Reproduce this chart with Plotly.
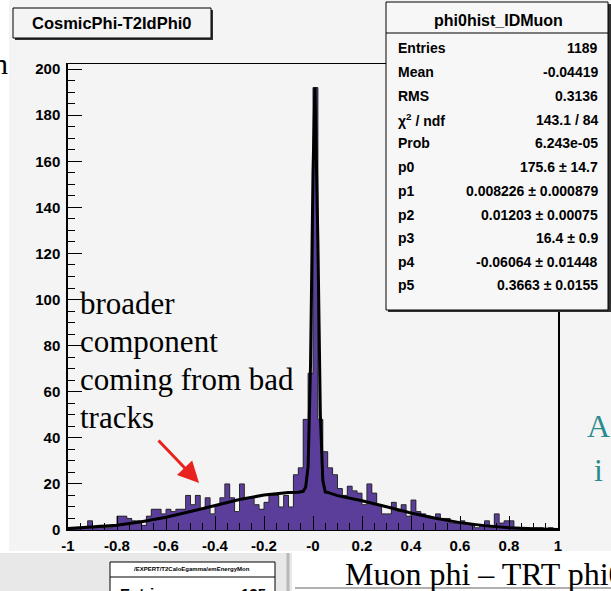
import plotly.graph_objects as go

# ---------------- data ----------------
bin_low = -1.0
bin_high = 1.0
n_bins = 100
counts = [
    1, 1, 1, 1, 4, 1, 2, 1, 1, 2,
    6, 6, 5, 4, 4, 2, 6, 9, 9, 7,
    9, 8, 9, 9, 15, 11, 15, 9, 14, 7,
    11, 14, 20, 14, 8, 20, 14, 14, 11, 9,
    12, 15, 15, 10, 15, 10, 24, 27, 48, 68,
    192, 48, 34, 27, 24, 18, 15, 19, 17, 16,
    11, 20, 16, 11, 7, 7, 12, 8, 11, 6,
    13, 8, 7, 6, 5, 7, 5, 5, 3, 3,
    4, 3, 2, 1, 2, 4, 1, 7, 3, 4,
    4, 1, 1, 1, 0, 1, 1, 0, 1, 0,
]
fit_x = [-1.0, -0.9, -0.8, -0.7, -0.6, -0.5, -0.4, -0.3, -0.2, -0.1, -0.06, -0.04,
         -0.03, -0.02, -0.01, 0.0, 0.008, 0.02, 0.03, 0.04, 0.05, 0.06,
         0.1, 0.2, 0.3, 0.4, 0.5, 0.6, 0.7, 0.8, 0.9, 1.0]
fit_y = [0.6, 1.2, 2.1, 3.6, 5.5, 8.0, 10.7, 13.2, 15.2, 16.3, 16.4, 16.8,
         18.5, 27.5, 72, 155, 192, 125, 50, 21.6, 16.5, 16.3,
         14.9, 12.7, 10.1, 7.4, 5.1, 3.2, 1.9, 1.0, 0.5, 0.25]
x_tickvals = [-1, -0.8, -0.6, -0.4, -0.2, 0, 0.2, 0.4, 0.6, 0.8, 1]
x_ticktext = ["-1", "-0.8", "-0.6", "-0.4", "-0.2", "-0", "0.2", "0.4", "0.6", "0.8", "1"]
y_tickvals = [0, 20, 40, 60, 80, 100, 120, 140, 160, 180, 200]
y_max = 202.2

hist_title = "CosmicPhi-T2IdPhi0"
stats_name = "phi0hist_IDMuon"
stats_labels = ["Entries", "Mean", "RMS", "χ<sup>2</sup> / ndf", "Prob",
                "p0", "p1", "p2", "p3", "p4", "p5"]
stats_values = ["1189", "-0.04419", "0.3136", "143.1 / 84", "6.243e-05",
                "175.6 ± 14.7", "0.008226 ± 0.000879", "0.01203 ± 0.00075",
                "16.4 ± 0.9", "-0.06064 ± 0.01448", "0.3663 ± 0.0155"]
note_lines = ["broader", "component", "coming from bad", "tracks"]

# ---------------- layout helpers ----------------
W, H = 611, 591
L, R, T, B = 68, 558, 64, 530


def px(x):
    return (x - L) / (R - L)


def py(y):
    return (B - y) / (B - T)


SANS = "Liberation Sans, Arial, sans-serif"
SERIF = "Liberation Serif, Times New Roman, serif"
BG = "#f4f4f4"
PURPLE = "#5b3e99"

bw = (bin_high - bin_low) / n_bins
centers = [bin_low + (i + 0.5) * bw for i in range(n_bins)]
edges = [bin_low + i * bw for i in range(n_bins + 1)]

fig = go.Figure()
fig.add_trace(go.Bar(x=centers, y=counts, width=bw, marker=dict(color=PURPLE, line=dict(width=0)),
                     hoverinfo="skip", showlegend=False))
fig.add_trace(go.Scatter(x=edges, y=counts + [counts[-1]], mode="lines",
                         line=dict(shape="hv", color="#2a2a2a", width=1),
                         hoverinfo="skip", showlegend=False))
fig.add_trace(go.Scatter(x=fit_x, y=fit_y, mode="lines", line=dict(color="black", width=3),
                         hoverinfo="skip", showlegend=False))

shapes = []


def rect(x0, y0, x1, y1, fill, line_color=None, lw=0, layer="above"):
    shapes.append(dict(type="rect", xref="paper", yref="paper",
                       x0=px(x0), x1=px(x1), y0=py(y1), y1=py(y0),
                       fillcolor=fill, layer=layer,
                       line=dict(color=line_color or fill, width=lw)))


def hline(x0, x1, y, color, w=1):
    shapes.append(dict(type="line", xref="paper", yref="paper",
                       x0=px(x0), x1=px(x1), y0=py(y), y1=py(y),
                       line=dict(color=color, width=w), layer="above"))


def vline(x, y0, y1, color, w=1):
    shapes.append(dict(type="line", xref="paper", yref="paper",
                       x0=px(x), x1=px(x), y0=py(y0), y1=py(y1),
                       line=dict(color=color, width=w), layer="above"))


# white slide around the ROOT canvas
rect(0, 0, 9, 551, "white", layer="below")
rect(0, 551, W, H, "white", layer="below")
# second (cut) canvas at bottom-left
rect(0, 553, 292, H, "#e8e8e8")
vline(288, 553, H, "#b8b8b8", 3)
rect(110, 562, 275, H + 5, "white", "black", 1)
hline(110, 275, 577, "black", 1)
# line at bottom right
hline(295, W, 588, "#b0b0b0", 2)
# title box with shadow
rect(15, 10, 213, 40, "#303030")
rect(13, 8, 211, 38, BG, "black", 1)
# stats box with shadow
rect(388, 4, 612, 312, "#303030")
rect(386, 2, 608, 310, "#f7f7f7", "black", 1)
hline(386, 608, 33, "black", 1)

annotations = []


def text(x, y, s, size, family=SANS, xanchor="left", color="black", weight="bold"):
    annotations.append(dict(xref="paper", yref="paper", x=px(x), y=py(y), text=s,
                            showarrow=False, xanchor=xanchor, yanchor="middle",
                            font=dict(family=family, size=size, color=color, weight=weight)))


text(112, 23, hist_title, 16.5, xanchor="center")
text(498, 20, stats_name, 16, xanchor="center")
row_y = [48, 72, 96, 120, 143, 167, 191, 215, 238, 262, 285]
for lab, val, yy in zip(stats_labels, stats_values, row_y):
    text(396, yy, lab, 14)
    text(600, yy, val, 14, xanchor="right")

for i, line in enumerate(note_lines):
    text(78, 303 + i * 38, line, 31, family=SERIF, weight="normal")

text(343, 574, "Muon phi – TRT phi0", 32, family=SERIF, weight="normal")
text(585, 426, "A", 32, family=SERIF, color="#2b8b8b", weight="normal")
text(592, 470, "i", 32, family=SERIF, color="#2b8b8b", weight="normal")
text(10, 63, "n", 30, family=SERIF, xanchor="right", weight="normal")
text(192, 569, "/EXPERT/T2CaloEgamma/emEnergyMon", 6, xanchor="center")
text(118, 593, "Entries", 15)
text(268, 593, "125", 15, xanchor="right")

# red arrow
annotations.append(dict(xref="x", yref="y", x=-0.465, y=20.4, ax=-42, ay=-44,
                        axref="pixel", ayref="pixel", showarrow=True, text="",
                        arrowhead=2, arrowsize=1.4, arrowwidth=3, arrowcolor="#e8231f"))

tickfont = dict(family=SANS, size=15, color="black", weight="bold")
fig.update_layout(
    width=W, height=H,
    margin=dict(l=L, r=W - R, t=T, b=H - B),
    paper_bgcolor=BG, plot_bgcolor=BG,
    bargap=0, showlegend=False,
    shapes=shapes, annotations=annotations,
    xaxis=dict(range=[bin_low, bin_high], tickmode="array", tickvals=x_tickvals, ticktext=x_ticktext,
               ticks="inside", ticklen=14, tickwidth=1, tickcolor="black",
               minor=dict(tick0=-1, dtick=0.05, ticks="inside", ticklen=7, tickcolor="black"),
               showline=True, linecolor="black", linewidth=1, mirror=True,
               showgrid=False, zeroline=False, tickfont=tickfont, ticklabelstandoff=2),
    yaxis=dict(range=[0, y_max], tickmode="array", tickvals=y_tickvals,
               ticks="inside", ticklen=14, tickwidth=1, tickcolor="black",
               minor=dict(tick0=0, dtick=5, ticks="inside", ticklen=7, tickcolor="black"),
               showline=True, linecolor="black", linewidth=1.5, mirror=True,
               showgrid=False, zeroline=False, tickfont=tickfont, ticklabelstandoff=3),
)

fig.write_html("out.html")
